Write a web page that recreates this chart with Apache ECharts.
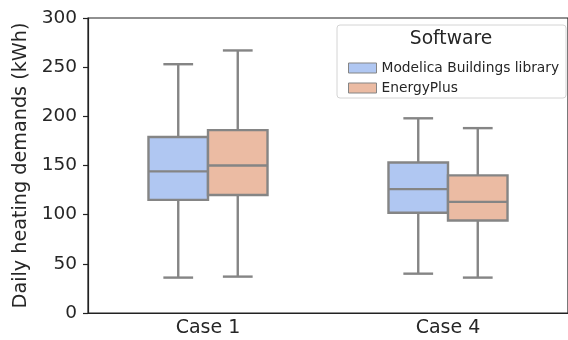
<!DOCTYPE html>
<html>
<head>
<meta charset="utf-8">
<script src="https://cdn.jsdelivr.net/npm/echarts@6/dist/echarts.min.js"></script>
<style>
html,body{margin:0;padding:0;background:#fff;}
#chart{width:568px;height:340px;}
</style>
</head>
<body>
<div id="chart"></div>
<script>
// ---- data ----
const categories = ['Case 1', 'Case 4'];
const seriesNames = ['Modelica Buildings library', 'EnergyPlus'];
// [min, Q1, median, Q3, max] per category
const modelicaStats = [
  [36, 115, 144, 179, 253],
  [40, 102, 126, 153, 198]
];
const energyPlusStats = [
  [37, 120, 150, 186, 267],
  [36, 94, 113, 140, 188]
];
const yTicks = [0, 50, 100, 150, 200, 250, 300];

// ---- styles ----
const FONT = 'DejaVu Sans';
const EDGE = '#858585';
const COLORS = ['#b0c7f2', '#ebbba3'];
const INK = '#262626';

function toData(stats) {
  return stats.map((s, i) => [i].concat(s));
}

function makeRender(offsetFrac, widthFrac, fill) {
  return function (params, api) {
    const xi = api.value(0);
    const band = api.size([1, 0])[0];
    const c = api.coord([xi, 0])[0] + offsetFrac * band;
    const w = widthFrac * band;
    const y = k => api.coord([xi, api.value(k)])[1];
    const yMin = y(1), yQ1 = y(2), yMed = y(3), yQ3 = y(4), yMax = y(5);
    const ls = { stroke: EDGE, lineWidth: 2.4 };
    const cap = w / 4;
    return {
      type: 'group',
      children: [
        { type: 'line', shape: { x1: c, y1: yQ3, x2: c, y2: yMax }, style: ls },
        { type: 'line', shape: { x1: c, y1: yQ1, x2: c, y2: yMin }, style: ls },
        { type: 'line', shape: { x1: c - cap, y1: yMax, x2: c + cap, y2: yMax }, style: ls },
        { type: 'line', shape: { x1: c - cap, y1: yMin, x2: c + cap, y2: yMin }, style: ls },
        { type: 'rect', shape: { x: c - w / 2, y: yQ3, width: w, height: yQ1 - yQ3 },
          style: { fill: fill, stroke: EDGE, lineWidth: 2.4 } },
        { type: 'line', shape: { x1: c - w / 2, y1: yMed, x2: c + w / 2, y2: yMed }, style: ls }
      ]
    };
  };
}

const chart = echarts.init(document.getElementById('chart'), null, { renderer: 'canvas' });
chart.setOption({
  animation: false,
  backgroundColor: '#fff',
  textStyle: { fontFamily: FONT },
  grid: { left: 88, top: 18, width: 484, height: 295, show: true, borderColor: '#222', borderWidth: 1.2, backgroundColor: 'transparent' },
  xAxis: {
    type: 'category',
    data: categories,
    boundaryGap: true,
    axisLine: { lineStyle: { color: '#222', width: 1.2 } },
    axisTick: { alignWithLabel: true, length: 5, lineStyle: { color: '#222', width: 1.2 } },
    axisLabel: { color: INK, fontFamily: FONT, fontSize: 19, margin: 6 },
    splitLine: { show: false }
  },
  yAxis: {
    type: 'value',
    min: yTicks[0],
    max: yTicks[yTicks.length - 1],
    interval: yTicks[1] - yTicks[0],
    name: 'Daily heating demands (kWh)',
    nameLocation: 'middle',
    nameGap: 49,
    nameTextStyle: { color: INK, fontFamily: FONT, fontSize: 19.2 },
    axisLine: { show: true, lineStyle: { color: '#222', width: 1.2 } },
    axisTick: { show: true, length: 5, lineStyle: { color: '#222', width: 1.2 } },
    axisLabel: { color: INK, fontFamily: FONT, fontSize: 18.5, margin: 11 },
    splitLine: { show: false }
  },
  legend: {
    orient: 'vertical',
    left: 343,
    top: 56,
    z: 10,
    itemWidth: 28,
    itemHeight: 10,
    itemGap: 6,
    icon: 'rect',
    textStyle: { color: INK, fontFamily: FONT, fontSize: 13.8, lineHeight: 14 },
    data: [
      { name: seriesNames[0], itemStyle: { color: COLORS[0], borderColor: EDGE, borderWidth: 1 } },
      { name: seriesNames[1], itemStyle: { color: COLORS[1], borderColor: EDGE, borderWidth: 1 } }
    ]
  },
  graphic: [
    { type: 'rect', z: 5, shape: { x: 337, y: 25, width: 229, height: 73, r: 3 },
      style: { fill: 'rgba(255,255,255,0.85)', stroke: '#d4d4d4', lineWidth: 1 } },
    { type: 'text', z: 11, x: 451, y: 39,
      style: { text: 'Software', fill: INK, font: '18.7px "DejaVu Sans"', textAlign: 'center', textVerticalAlign: 'middle' } }
  ],
  series: [
    {
      name: seriesNames[0], type: 'custom', z: 2,
      itemStyle: { color: COLORS[0] },
      encode: { x: 0, y: [1, 2, 3, 4, 5] },
      renderItem: makeRender(-0.124, 0.248, COLORS[0]),
      data: toData(modelicaStats)
    },
    {
      name: seriesNames[1], type: 'custom', z: 2,
      itemStyle: { color: COLORS[1] },
      encode: { x: 0, y: [1, 2, 3, 4, 5] },
      renderItem: makeRender(0.124, 0.248, COLORS[1]),
      data: toData(energyPlusStats)
    }
  ]
});
</script>
</body>
</html>
